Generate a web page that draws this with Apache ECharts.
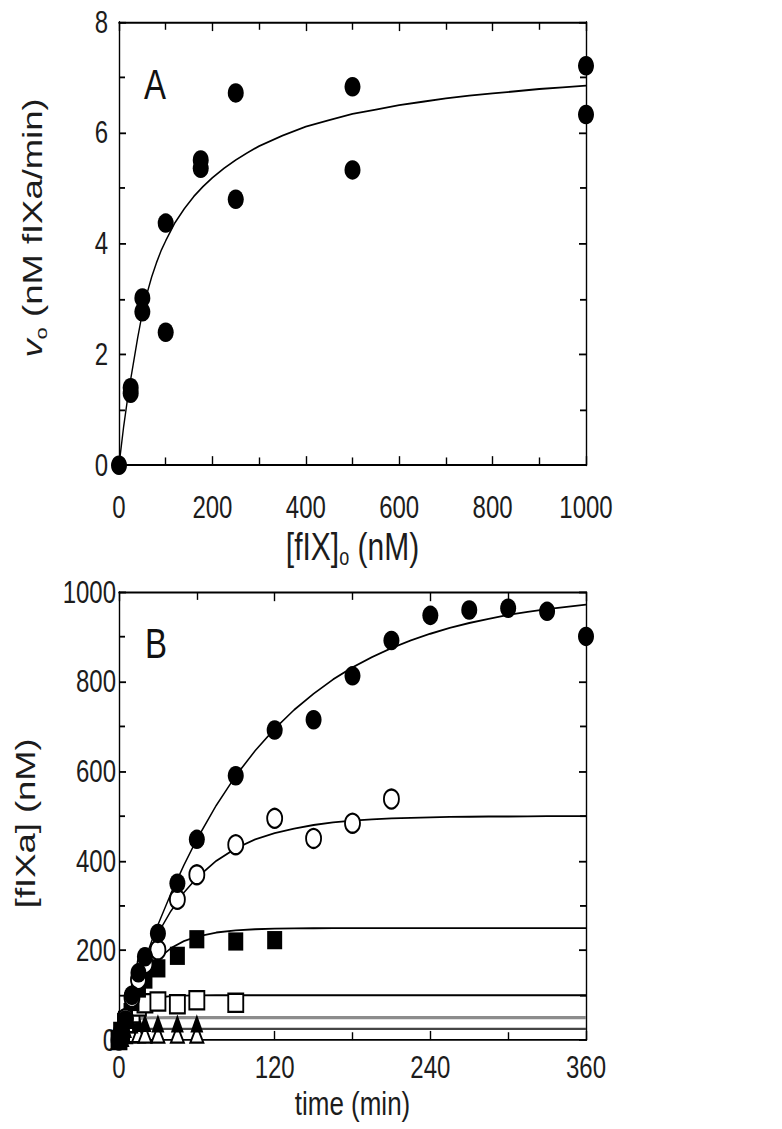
<!DOCTYPE html>
<html><head><meta charset="utf-8">
<script src="https://cdn.jsdelivr.net/npm/echarts@6/dist/echarts.min.js"></script>
<style>
html,body{margin:0;padding:0;background:#fff;width:782px;height:1129px;overflow:hidden}
#c{width:782px;height:868px;transform:scale(1,1.3007);transform-origin:0 0}
</style>
</head><body><div id="c"></div>
<script>
// ---------- Panel A data ----------
const aConc = [0, 25, 25, 50, 50, 100, 100, 175, 175, 250, 250, 500, 500, 1000, 1000];
const aRate = [0, 1.30, 1.40, 3.02, 2.77, 4.37, 2.40, 5.51, 5.36, 6.72, 4.80, 6.83, 5.33, 7.21, 6.33];
const aFitX = [0, 5, 10, 15, 20, 25, 30, 40, 50, 60, 70, 80, 90, 100, 120, 140, 160, 180, 200, 225, 250, 275, 300, 350, 400, 450, 500, 550, 600, 650, 700, 750, 800, 850, 900, 950, 1000];
const aFitY = [0, 0.35, 0.70, 1.00, 1.30, 1.55, 1.80, 2.30, 2.75, 3.10, 3.40, 3.65, 3.87, 4.05, 4.38, 4.63, 4.85, 5.03, 5.19, 5.36, 5.51, 5.64, 5.76, 5.95, 6.11, 6.23, 6.34, 6.42, 6.50, 6.56, 6.62, 6.67, 6.71, 6.75, 6.79, 6.82, 6.85];

// ---------- Panel B data ----------
const bTime1000 = [0, 2, 5, 10, 15, 20, 30, 45, 60, 90, 120, 150, 180, 210, 240, 270, 300, 330, 360];
const b1000 = [0, 20, 45, 100, 150, 186, 238, 350, 448, 590, 692, 715, 813, 892, 948, 960, 964, 957, 901];
const bTime500 = [0, 2, 5, 10, 15, 20, 30, 45, 60, 90, 120, 150, 180, 210];
const b500 = [0, 20, 48, 95, 135, 170, 201, 314, 369, 436, 495, 450, 484, 538];
const bTime250 = [0, 2, 5, 10, 15, 20, 30, 45, 60, 90, 120];
const b250 = [0, 20, 45, 85, 115, 135, 160, 188, 225, 220, 223];
const bTime100 = [0, 2, 5, 10, 15, 20, 30, 45, 60, 90];
const b100 = [0, 18, 38, 60, 75, 82, 86, 80, 89, 83];
const bTime50 = [0, 2, 5, 10, 15, 20, 30, 45, 60];
const b50 = [0, 12, 25, 35, 38, 38, 37, 37, 37];
const bTime25 = [0, 2, 5, 10, 15, 20, 30, 45, 60];
const b25 = [0, 6, 12, 14, 14, 13, 13, 13, 13];

const bFitT    = [0, 1, 2, 3, 4, 5, 6, 8, 10, 12, 15, 20, 25, 30, 40, 50, 60, 75, 90, 105, 120, 135, 150, 165, 180, 195, 210, 225, 240, 255, 270, 285, 300, 315, 330, 345, 360];
const bFit1000 = [0, 10, 20, 29, 39, 48, 58, 76, 94, 112, 138, 180, 219, 257, 327, 390, 448, 524, 590, 646, 695, 737, 773, 805, 832, 855, 875, 892, 907, 920, 931, 940, 949, 956, 962, 967, 972];
const bFit500  = [0, 11, 21, 32, 42, 52, 62, 79, 97, 114, 138, 175, 208, 238, 288, 329, 362, 400, 428, 448, 462, 472, 480, 486, 490, 492.5, 495, 496, 497, 498, 498.5, 499, 499, 499.4, 500, 500, 500];
const bFit250  = [0, 10.5, 20.6, 30.4, 39.7, 48.8, 57.3, 72.8, 87, 100, 119, 144, 164, 181, 205, 221, 231, 240, 245, 247.3, 248.6, 249.3, 249.6, 249.8, 250, 250, 250, 250, 250, 250, 250, 250, 250, 250, 250, 250, 250];
const bFit100  = [0, 9.5, 18.1, 25.9, 33, 39.3, 45.1, 55.1, 63.2, 69.9, 77.7, 86.5, 91.8, 95, 98.2, 99.3, 99.8, 100, 100, 100, 100, 100, 100, 100, 100, 100, 100, 100, 100, 100, 100, 100, 100, 100, 100, 100, 100];
const bFit50   = [0, 9.1, 16.5, 22.6, 27.5, 31.6, 34.9, 39.9, 43.2, 45.5, 47.5, 49.1, 49.7, 49.9, 50, 50, 50, 50, 50, 50, 50, 50, 50, 50, 50, 50, 50, 50, 50, 50, 50, 50, 50, 50, 50, 50, 50];
const bFit25   = [0, 6.5, 11.3, 14.8, 17.5, 19.4, 20.9, 22.7, 23.8, 24.3, 24.7, 24.9, 25, 25, 25, 25, 25, 25, 25, 25, 25, 25, 25, 25, 25, 25, 25, 25, 25, 25, 25, 25, 25, 25, 25, 25, 25];

const zip = (xs, ys) => xs.map((x, i) => [x, ys[i]]);

const FONT = "'Liberation Sans', Arial, sans-serif";
const TXT = '#1c1c1c';
const fmt = v => String(v);

function axis(grid, min, max, interval, opts) {
  return Object.assign({
    type: 'value', gridIndex: grid, min: min, max: max, interval: interval,
    axisLine: { show: true, onZero: false, lineStyle: { color: '#000', width: 1.4 } },
    axisTick: { show: true, inside: true, length: 7, lineStyle: { color: '#000', width: 1.4 } },
    minorTick: { show: true, splitNumber: 2, length: 6, lineStyle: { color: '#000', width: 1.4 } },
    splitLine: { show: false },
    minorSplitLine: { show: false },
    axisLabel: { show: false }
  }, opts || {});
}

const xAxes = [
  axis(0, 0, 1000, 200, {
    position: 'bottom', name: '[fIX]{s|o} (nM)', nameLocation: 'middle', nameGap: 44,
    axisLabel: { show: true, formatter: fmt, fontSize: 24, lineHeight: 24, color: TXT, fontFamily: FONT, margin: 20 },
    nameTextStyle: { fontSize: 30, lineHeight: 34, color: TXT, fontFamily: FONT,
      rich: { s: { fontSize: 18, color: TXT, fontFamily: FONT, verticalAlign: 'bottom', lineHeight: 22 } } }
  }),
  axis(0, 0, 1000, 200, { position: 'top' }),
  axis(1, 0, 360, 120, {
    position: 'bottom', name: 'time (min)', nameLocation: 'middle', nameGap: 33,
    axisLabel: { show: true, formatter: fmt, fontSize: 24, lineHeight: 24, color: TXT, fontFamily: FONT, margin: 9 },
    nameTextStyle: { fontSize: 26, lineHeight: 30, color: TXT, fontFamily: FONT }
  }),
  axis(1, 0, 360, 120, { position: 'top' })
];
const yAxes = [
  axis(0, 0, 8, 2, {
    position: 'left', name: '{i|v}{s|o} (nM fIXa/min)', nameLocation: 'middle', nameGap: 70,
    axisLabel: { show: true, formatter: fmt, fontSize: 24, color: TXT, fontFamily: FONT, margin: 11 },
    nameTextStyle: { fontSize: 28, lineHeight: 32, color: TXT, fontFamily: FONT, padding: [0, 0, 0, 24],
      rich: {
        i: { fontSize: 28, fontStyle: 'italic', color: TXT, fontFamily: FONT, lineHeight: 32 },
        s: { fontSize: 17, color: TXT, fontFamily: FONT, verticalAlign: 'bottom', lineHeight: 20 }
      } }
  }),
  axis(0, 0, 8, 2, { position: 'right' }),
  axis(1, 0, 1000, 200, {
    position: 'left', name: '[fIXa] (nM)', nameLocation: 'middle', nameGap: 77,
    axisLabel: { show: true, formatter: fmt, fontSize: 24, color: TXT, fontFamily: FONT, margin: 3 },
    nameTextStyle: { fontSize: 28, lineHeight: 32, color: TXT, fontFamily: FONT, padding: [0, 11, 0, 0] }
  }),
  axis(1, 0, 1000, 200, { position: 'right' })
];

function fitLine(xi, yi, xs, ys, color, width) {
  return { type: 'line', xAxisIndex: xi, yAxisIndex: yi, data: zip(xs, ys), showSymbol: false,
    smooth: false, clip: false, silent: true, z: 2,
    lineStyle: { color: color, width: width } };
}
function pts(xi, yi, xs, ys, symbol, size, filled) {
  return { type: 'scatter', xAxisIndex: xi, yAxisIndex: yi, data: zip(xs, ys), symbol: symbol,
    symbolSize: size, clip: false, silent: true, z: 3,
    itemStyle: filled ? { color: '#000', opacity: 1 } : { color: '#fff', borderColor: '#000', borderWidth: 1.8, opacity: 1 } };
}

const option = {
  animation: false,
  backgroundColor: '#fff',
  grid: [
    { left: 119, top: 16.9, width: 467, height: 340.8 },
    { left: 119, top: 455.2, width: 467, height: 344.4 }
  ],
  xAxis: xAxes,
  yAxis: yAxes,
  graphic: [
    { type: 'text', left: 144, top: 48, style: { text: 'A', fontSize: 33, fill: '#111', fontFamily: FONT } },
    { type: 'text', left: 145, top: 478, style: { text: 'B', fontSize: 33, fill: '#111', fontFamily: FONT } }
  ],
  series: [
    fitLine(0, 0, aFitX, aFitY, '#000', 1.4),
    pts(0, 0, aConc, aRate, 'circle', [16, 15], true),

    fitLine(2, 2, bFitT, bFit1000, '#000', 1.4),
    fitLine(2, 2, bFitT, bFit500, '#000', 1.4),
    fitLine(2, 2, bFitT, bFit250, '#000', 1.4),
    fitLine(2, 2, bFitT, bFit100, '#000', 1.4),
    fitLine(2, 2, bFitT, bFit50, '#8c8c8c', 2.4),
    fitLine(2, 2, bFitT, bFit25, '#444', 1.6),
    pts(2, 2, bTime25, b25, 'triangle', [13, 13], false),
    pts(2, 2, bTime50, b50, 'triangle', [13, 14], true),
    pts(2, 2, bTime100, b100, 'rect', [15, 14], false),
    pts(2, 2, bTime250, b250, 'rect', [15, 14], true),
    pts(2, 2, bTime500, b500, 'circle', [15, 14.5], false),
    pts(2, 2, bTime1000, b1000, 'circle', [16, 15], true)
  ]
};
const chart = echarts.init(document.getElementById('c'), null, { renderer: 'svg' });
chart.setOption(option);
</script>
</body></html>
